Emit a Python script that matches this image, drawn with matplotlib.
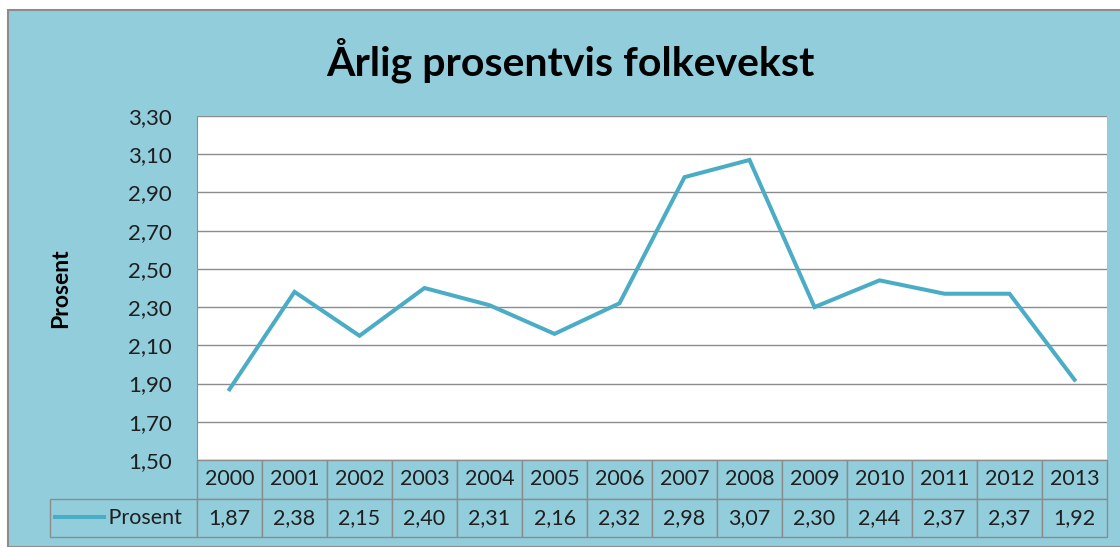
import matplotlib
matplotlib.use("Agg")
import matplotlib.pyplot as plt
from matplotlib.patches import Rectangle
from matplotlib.lines import Line2D
from matplotlib.ticker import FuncFormatter

years = ["2000", "2001", "2002", "2003", "2004", "2005", "2006",
         "2007", "2008", "2009", "2010", "2011", "2012", "2013"]
prosent = [1.87, 2.38, 2.15, 2.40, 2.31, 2.16, 2.32,
           2.98, 3.07, 2.30, 2.44, 2.37, 2.37, 1.92]
y_ticks = [1.50, 1.70, 1.90, 2.10, 2.30, 2.50, 2.70, 2.90, 3.10, 3.30]
series_name = "Prosent"
title = "Årlig prosentvis folkevekst"

bg = "#92cddc"
line_col = "#4bacc6"
grid_col = "#8c8c8c"
txt_col = "#1f1f1f"

plt.rcParams["font.family"] = ["Lato", "DejaVu Sans"]

W, H = 1120, 547
fig = plt.figure(figsize=(W / 100, H / 100), dpi=100)
fig.patch.set_facecolor("white")

# chart area background with grey border
fig.patches.append(Rectangle((8 / W, 0), 1.2, 1 - 10 / H, transform=fig.transFigure,
                             facecolor=bg, edgecolor=grid_col, linewidth=1.5, zorder=-10))

# plot area in pixels
left, right, top, bottom = 197, 1107, 116, 460
ax = fig.add_axes([left / W, 1 - bottom / H, (right - left) / W, (bottom - top) / H])
ax.set_facecolor("white")

x = list(range(len(years)))
ax.plot(x, prosent, color=line_col, linewidth=2.9, solid_joinstyle="miter")

ax.set_xlim(-0.5, len(years) - 0.5)
ax.set_ylim(y_ticks[0], y_ticks[-1])
ax.set_yticks(y_ticks)
ax.yaxis.set_major_formatter(FuncFormatter(lambda v, p: f"{v:.2f}".replace(".", ",")))
ax.tick_params(axis="y", length=0, pad=18, labelsize=16, labelcolor=txt_col)
ax.set_xticks([])
ax.grid(axis="y", color=grid_col, linewidth=1)
ax.set_axisbelow(True)
for s in ["top", "right", "bottom"]:
    ax.spines[s].set_visible(False)
ax.spines["left"].set_color(grid_col)
ax.set_ylabel("Prosent", fontsize=16.5, fontweight="bold", color="black", labelpad=41)

# data table below the plot
tbl = ax.table(cellText=[[f"{v:.2f}".replace(".", ",") for v in prosent]],
               rowLabels=["         " + series_name],
               colLabels=years,
               cellLoc="center", rowLoc="right",
               bbox=[0, -(537 - 460) / (bottom - top), 1, (537 - 460) / (bottom - top)])
tbl.auto_set_font_size(False)
for (r, c), cell in tbl.get_celld().items():
    cell.set_facecolor(bg)
    cell.set_edgecolor(grid_col)
    cell.set_linewidth(1)
    cell.get_text().set_fontsize(15.5)
    cell.get_text().set_color(txt_col)
    if c == -1:
        cell.set_width((left - 50) / (right - left))

# legend key in the row label cell
fig.lines.append(Line2D([55 / W, 104 / W], [1 - 517 / H, 1 - 517 / H], transform=fig.transFigure,
                        color=line_col, linewidth=2.9))

fig.text(570 / W, 1 - 60 / H, title, ha="center", va="center",
         fontsize=29.5, fontweight="bold", color="black")

fig.savefig("out.png", dpi=100, facecolor=fig.get_facecolor())
